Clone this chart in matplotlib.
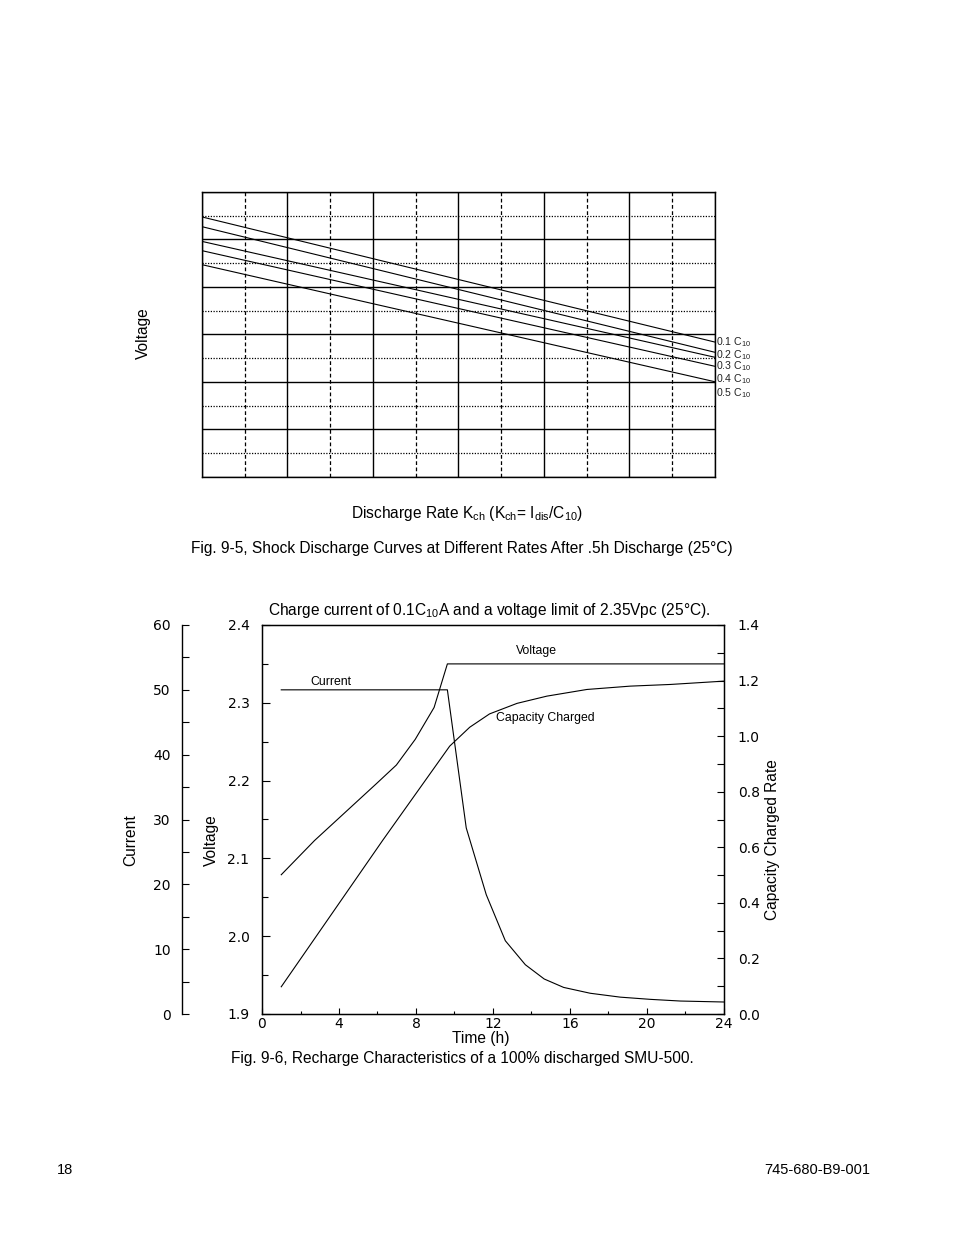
import matplotlib
matplotlib.use("Agg")
import matplotlib.pyplot as plt
from matplotlib.ticker import MultipleLocator, FormatStrFormatter

plt.rcParams['font.family'] = ['Liberation Sans', 'DejaVu Sans']
plt.rcParams['mathtext.fontset'] = 'custom'
plt.rcParams['mathtext.rm'] = 'Liberation Sans'
plt.rcParams['mathtext.default'] = 'regular'

# ---------------- Fig. 9-5 data (grid units, 12 x 12 grid) ----------------
rate_labels = ['0.1 C$_{10}$', '0.2 C$_{10}$', '0.3 C$_{10}$', '0.4 C$_{10}$', '0.5 C$_{10}$']
rate_x = [0, 12]
volt_start = [10.95, 10.54, 9.92, 9.53, 8.94]
volt_end = [5.68, 5.25, 5.04, 4.66, 4.01]

# ---------------- Fig. 9-6 data ----------------
time_voltage = [1.0, 2.73, 5.94, 6.98, 7.96, 8.94, 9.63, 24.0]
voltage = [2.079, 2.123, 2.196, 2.220, 2.253, 2.294, 2.350, 2.350]

time_current = [1.0, 9.63, 10.61, 11.65, 12.64, 13.68, 14.66, 15.67, 17.05, 18.61, 20.17, 21.73, 24.0]
current = [50.0, 50.0, 28.7, 18.4, 11.3, 7.6, 5.4, 4.1, 3.2, 2.6, 2.26, 2.0, 1.85]

time_capacity = [1.0, 6.28, 9.75, 10.79, 11.82, 13.25, 14.80, 16.88, 19.13, 21.21, 24.0]
capacity = [0.098, 0.626, 0.964, 1.032, 1.080, 1.118, 1.144, 1.168, 1.180, 1.186, 1.198]

# ---------------- layout helpers ----------------
W, H = 954, 1235
fig = plt.figure(figsize=(W / 100, H / 100), dpi=100)
fig.patch.set_facecolor('white')


def fx(px):
    return px / W


def fy(py):
    return 1 - py / H


BIG = 11.2
SMALL = 8.8
RLAB = 7.6
TICK = 10
LW = 0.8

# ================= Fig. 9-5 =================
ax1 = fig.add_axes([fx(202), fy(477), (715 - 202) / W, (477 - 192) / H])
ax1.set_xlim(0, 12)
ax1.set_ylim(0, 12)
ax1.xaxis.set_major_locator(MultipleLocator(2))
ax1.xaxis.set_minor_locator(MultipleLocator(1))
ax1.yaxis.set_major_locator(MultipleLocator(2))
ax1.yaxis.set_minor_locator(MultipleLocator(1))
ax1.tick_params(which='both', length=0, labelbottom=False, labelleft=False)
ax1.xaxis.grid(True, which='major', color='black', lw=1.0, ls='-')
ax1.yaxis.grid(True, which='major', color='black', lw=1.0, ls='-')
ax1.xaxis.grid(True, which='minor', color='black', lw=0.9, ls=(0, (3, 2)))
ax1.yaxis.grid(True, which='minor', color='black', lw=0.9, ls=(0, (1, 1.2)))
for s in ax1.spines.values():
    s.set_linewidth(1.0)

label_offsets_px = [0, -2.3, -9.3, -12.3, -11]
for lab, v0, v1, off in zip(rate_labels, volt_start, volt_end, label_offsets_px):
    ax1.plot(rate_x, [v0, v1], color='black', lw=LW, solid_capstyle='butt')
    ax1.annotate(lab, xy=(rate_x[-1], v1), xytext=(1.0, off * 0.72),
                 textcoords='offset points', ha='left', va='center',
                 fontsize=RLAB, color='#222222', annotation_clip=False)

fig.text(fx(143), fy(333), 'Voltage', rotation=90, ha='center', va='center', fontsize=BIG)
fig.text(fx(467), fy(513), 'Discharge Rate K$_{ch}$ (K$_{ch}$= I$_{dis}$/C$_{10}$)',
         ha='center', va='center', fontsize=BIG)
fig.text(fx(462), fy(549),
         'Fig. 9-5, Shock Discharge Curves at Different Rates After .5h Discharge (25°C)',
         ha='center', va='center', fontsize=BIG)

# ================= Fig. 9-6 =================
ax = fig.add_axes([fx(262), fy(1014), 462 / W, 389 / H])
ax.set_xlim(0, 24)
ax.set_ylim(1.9, 2.4)
ax.xaxis.set_major_locator(MultipleLocator(4))
ax.xaxis.set_minor_locator(MultipleLocator(2))
ax.yaxis.set_major_locator(MultipleLocator(0.1))
ax.yaxis.set_minor_locator(MultipleLocator(0.05))
ax.yaxis.set_major_formatter(FormatStrFormatter('%.1f'))
ax.tick_params(axis='x', which='major', direction='in', length=4, width=LW, pad=2,
               labelsize=TICK, labelfontfamily='DejaVu Sans')
ax.tick_params(axis='x', which='minor', direction='in', length=2.5, width=LW)
ax.tick_params(axis='y', which='major', direction='in', length=6, width=LW, pad=9,
               labelsize=TICK, labelfontfamily='DejaVu Sans')
ax.tick_params(axis='y', which='minor', direction='in', length=4, width=LW)
for s in ax.spines.values():
    s.set_linewidth(1.0)

ax.plot(time_voltage, voltage, color='black', lw=LW)

# capacity axis (right)
axr = ax.twinx()
axr.set_ylim(0, 1.4)
axr.yaxis.set_major_locator(MultipleLocator(0.2))
axr.yaxis.set_minor_locator(MultipleLocator(0.1))
axr.yaxis.set_major_formatter(FormatStrFormatter('%.1f'))
axr.tick_params(axis='y', which='major', direction='in', length=5, width=LW, pad=10,
                labelsize=TICK, labelfontfamily='DejaVu Sans')
axr.tick_params(axis='y', which='minor', direction='in', length=5, width=LW)
axr.plot(time_capacity, capacity, color='black', lw=LW)

# current axis (far left)
axc = ax.twinx()
axc.set_ylim(0, 60)
axc.spines['left'].set_position(('axes', -80 / 462))
axc.spines['left'].set_visible(True)
for k in ('right', 'top', 'bottom'):
    axc.spines[k].set_visible(False)
axc.yaxis.tick_left()
axc.yaxis.set_major_locator(MultipleLocator(10))
axc.yaxis.set_minor_locator(MultipleLocator(5))
axc.tick_params(axis='y', which='major', direction='in', length=5, width=LW, pad=8,
                labelsize=TICK, labelfontfamily='DejaVu Sans')
axc.tick_params(axis='y', which='minor', direction='in', length=5, width=LW)
axc.spines['left'].set_linewidth(1.0)
axc.plot(time_current, current, color='black', lw=LW)

# curve labels
ax.text(14.25, 2.366, 'Voltage', ha='center', va='center', fontsize=SMALL)
ax.text(3.6, 2.327, 'Current', ha='center', va='center', fontsize=SMALL)
ax.text(14.7, 2.281, 'Capacity Charged', ha='center', va='center', fontsize=SMALL)

fig.text(fx(131), fy(840), 'Current', rotation=90, ha='center', va='center', fontsize=BIG)
fig.text(fx(211), fy(840), 'Voltage', rotation=90, ha='center', va='center', fontsize=BIG)
fig.text(fx(773), fy(840), 'Capacity Charged Rate', rotation=90, ha='center', va='center', fontsize=BIG)
fig.text(fx(481), fy(1038), 'Time (h)', ha='center', va='center', fontsize=BIG)
fig.text(fx(489), fy(610), 'Charge current of 0.1C$_{10}$A and a voltage limit of 2.35Vpc (25°C).',
         ha='center', va='center', fontsize=BIG)
fig.text(fx(462), fy(1058), 'Fig. 9-6, Recharge Characteristics of a 100% discharged SMU-500.',
         ha='center', va='center', fontsize=BIG)

# page footer
fig.text(fx(57), fy(1170), '18', ha='left', va='center', fontsize=10.5)
fig.text(fx(870), fy(1170), '745-680-B9-001', ha='right', va='center', fontsize=10.5)

fig.savefig('out.png', dpi=100, facecolor='white')
